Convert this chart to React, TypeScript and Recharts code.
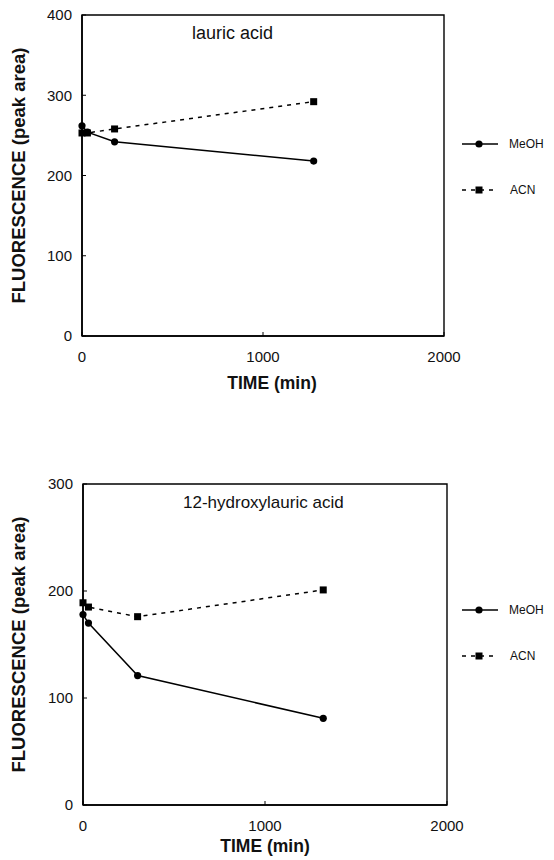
import { LineChart, Line, XAxis, YAxis, ReferenceArea } from "recharts";

const FONT = "'Liberation Sans', Arial, Helvetica, sans-serif";

const X_TICKS = [0, 1000, 2000];

const LAURIC_TIME = [0, 30, 180, 1280];
const LAURIC_MEOH = [262, 254, 242, 218];
const LAURIC_ACN = [253, 253, 258, 292];
const LAURIC_Y_TICKS = [0, 100, 200, 300, 400];

const HYDROXY_TIME = [0, 30, 300, 1320];
const HYDROXY_MEOH = [178, 170, 121, 81];
const HYDROXY_ACN = [189, 185, 176, 201];
const HYDROXY_Y_TICKS = [0, 100, 200, 300];

const SERIES = ["MeOH", "ACN"];

function toRows(time: number[], meoh: number[], acn: number[]) {
  return time.map((t, i) => ({ t, meoh: meoh[i], acn: acn[i] }));
}

function SquareDot(props: any) {
  const { cx, cy } = props;
  if (cx == null || cy == null) return <g />;
  return <rect x={cx - 3.5} y={cy - 3.5} width={7} height={7} fill="#000" />;
}

const tickStyle = { fontFamily: FONT, fontSize: 15, fill: "#111" };

function FigLegend({ top }: { top: number }) {
  return (
    <svg
      width={100}
      height={70}
      style={{ position: "absolute", left: 458, top, overflow: "visible" }}
    >
      <line x1={4} x2={40} y1={8} y2={8} stroke="#000" strokeWidth={1.6} />
      <circle cx={21} cy={8} r={3.6} fill="#000" />
      <text x={51} y={12} fontFamily={FONT} fontSize={12} fill="#111">
        {SERIES[0]}
      </text>
      <line
        x1={4}
        x2={40}
        y1={54}
        y2={54}
        stroke="#000"
        strokeWidth={1.6}
        strokeDasharray="4 5"
      />
      <rect x={17.5} y={50.5} width={7} height={7} fill="#000" />
      <text x={52} y={58} fontFamily={FONT} fontSize={12} fill="#111">
        {SERIES[1]}
      </text>
    </svg>
  );
}

type PanelProps = {
  title: string;
  titleX: number;
  titleSize: number;
  rows: { t: number; meoh: number; acn: number }[];
  yTicks: number[];
  height: number;
  marginTop: number;
  right: number;
  yWidth: number;
  xHeight: number;
  xLabelDx: number;
  xLabelDy: number;
};

function Panel({
  title,
  titleX,
  titleSize,
  rows,
  yTicks,
  height,
  marginTop,
  right,
  yWidth,
  xHeight,
  xLabelDx,
  xLabelDy,
}: PanelProps) {
  const yMax = yTicks[yTicks.length - 1];
  return (
    <LineChart
      width={554}
      height={height}
      data={rows}
      margin={{ top: marginTop, right, left: 0, bottom: 0 }}
    >
      <XAxis
        type="number"
        dataKey="t"
        domain={[0, 2000]}
        ticks={X_TICKS}
        height={xHeight}
        tickSize={-4}
        tickMargin={19}
        tick={tickStyle}
        axisLine={{ stroke: "#000", strokeWidth: 1.6 }}
        tickLine={{ stroke: "#000" }}
        label={(p: any) => {
          const vb = p.viewBox;
          return (
            <text
              x={vb.x + vb.width / 2 + xLabelDx}
              y={vb.y + xLabelDy}
              textAnchor="middle"
              fontFamily={FONT}
              fontSize={17.5}
              fontWeight="bold"
              fill="#111"
            >
              TIME (min)
            </text>
          );
        }}
      />
      <YAxis
        type="number"
        domain={[0, yMax]}
        ticks={yTicks}
        width={yWidth}
        tickSize={-4}
        tickMargin={14}
        tick={tickStyle}
        axisLine={{ stroke: "#000", strokeWidth: 1.6 }}
        tickLine={{ stroke: "#000" }}
        label={(p: any) => {
          const vb = p.viewBox;
          const cx = 20;
          const cy = vb.y + vb.height / 2;
          return (
            <text
              x={cx}
              y={cy}
              transform={`rotate(-90 ${cx} ${cy})`}
              textAnchor="middle"
              dominantBaseline="middle"
              fontFamily={FONT}
              fontSize={18.5}
              fontWeight="bold"
              fill="#111"
            >
              FLUORESCENCE (peak area)
            </text>
          );
        }}
      />
      <ReferenceArea
        x1={0}
        x2={2000}
        y1={0}
        y2={yMax}
        fill="none"
        stroke="#000"
        strokeWidth={1.4}
        label={(p: any) => {
          const vb = p.viewBox;
          return (
            <text
              x={vb.x + titleX}
              y={vb.y + 24}
              fontFamily={FONT}
              fontSize={titleSize}
              fill="#111"
            >
              {title}
            </text>
          );
        }}
      />
      <Line
        dataKey="acn"
        name={SERIES[1]}
        stroke="#000"
        strokeWidth={1.5}
        strokeDasharray="4 5"
        dot={<SquareDot />}
        isAnimationActive={false}
      />
      <Line
        dataKey="meoh"
        name={SERIES[0]}
        stroke="#000"
        strokeWidth={1.5}
        dot={{ r: 3.6, fill: "#000", stroke: "none" }}
        isAnimationActive={false}
      />
    </LineChart>
  );
}

export default function App() {
  return (
    <div
      style={{
        position: "absolute",
        left: 0,
        top: 0,
        width: 554,
        height: 860,
        background: "#fff",
      }}
    >
      <div style={{ position: "absolute", left: 0, top: 0 }}>
        <Panel
          title="lauric acid"
          titleX={110}
          titleSize={18}
          rows={toRows(LAURIC_TIME, LAURIC_MEOH, LAURIC_ACN)}
          yTicks={LAURIC_Y_TICKS}
          height={400}
          marginTop={15}
          right={110}
          yWidth={82}
          xHeight={64}
          xLabelDx={9}
          xLabelDy={53}
        />
      </div>
      <div style={{ position: "absolute", left: 0, top: 430 }}>
        <Panel
          title="12-hydroxylauric acid"
          titleX={100}
          titleSize={17}
          rows={toRows(HYDROXY_TIME, HYDROXY_MEOH, HYDROXY_ACN)}
          yTicks={HYDROXY_Y_TICKS}
          height={430}
          marginTop={54}
          right={107}
          yWidth={83}
          xHeight={55}
          xLabelDx={0}
          xLabelDy={47}
        />
      </div>
      <FigLegend top={136} />
      <FigLegend top={602} />
    </div>
  );
}
